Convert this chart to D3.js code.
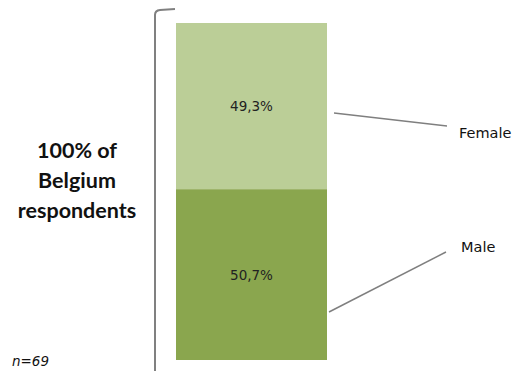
<!DOCTYPE html>
<html><head><meta charset="utf-8">
<script src="https://cdn.jsdelivr.net/npm/d3@7"></script>
<style>body{margin:0;background:#fff}svg{display:block}</style>
</head><body>
<script>
const categories = ["Male", "Female"];
const values = [50.7, 49.3];
const valueLabels = ["50,7%", "49,3%"];
const colors = ["#8aa64e", "#bbce97"];
const sampleNote = "n=69";
const titleLines = ["100% of", "Belgium", "respondents"];

const W = 518, H = 371;
const svg = d3.select("body").append("svg").attr("width", W).attr("height", H);

const y = d3.scaleLinear().domain([0, 100]).range([360, 23]);
const x = d3.scaleBand().domain(["Belgium"]).range([176, 327]).padding(0);

let cum = 0;
const stacked = values.map((v, i) => { const s = {cat: categories[i], y0: cum, y1: cum + v, label: valueLabels[i], color: colors[i]}; cum += v; return s; });

svg.selectAll("rect.seg").data(stacked).enter().append("rect")
  .attr("x", x("Belgium")).attr("width", x.bandwidth())
  .attr("y", d => y(d.y1)).attr("height", d => y(d.y0) - y(d.y1))
  .attr("fill", d => d.color);

svg.selectAll("text.val").data(stacked).enter().append("text")
  .attr("x", x("Belgium") + x.bandwidth() / 2)
  .attr("y", d => y((d.y0 + d.y1) / 2) + 5)
  .attr("text-anchor", "middle")
  .attr("font-family", "DejaVu Sans, sans-serif").attr("font-size", 13.5).attr("fill", "#222")
  .text(d => d.label);

const leaders = {
  Female: {p1: [334, 113], p2: [447, 126], tx: 459, ty: 138},
  Male: {p1: [329, 312], p2: [446, 252], tx: 461, ty: 252}
};
stacked.forEach(d => {
  const L = leaders[d.cat];
  svg.append("line").attr("x1", L.p1[0]).attr("y1", L.p1[1]).attr("x2", L.p2[0]).attr("y2", L.p2[1])
    .attr("stroke", "#7f7f7f").attr("stroke-width", 1.5);
  svg.append("text").attr("x", L.tx).attr("y", L.ty)
    .attr("font-family", "DejaVu Sans, sans-serif").attr("font-size", 14.5).attr("fill", "#111").text(d.cat);
});

svg.append("path").attr("d", "M175,9 L160,10 Q155,10.5 155,15 L155,371")
  .attr("fill", "none").attr("stroke", "#808080").attr("stroke-width", 2);

svg.append("text").attr("text-anchor", "middle")
  .attr("font-family", "Lato, sans-serif").attr("font-weight", "bold").attr("font-size", 21.5).attr("fill", "#111")
  .selectAll("tspan").data(titleLines).enter().append("tspan")
  .attr("x", 77).attr("y", (d, i) => 158 + i * 30).text(d => d);

svg.append("text").attr("x", 12).attr("y", 366)
  .attr("font-family", "DejaVu Sans, sans-serif").attr("font-style", "italic").attr("font-size", 13.5).attr("fill", "#111")
  .text(sampleNote);
</script>
</body></html>
